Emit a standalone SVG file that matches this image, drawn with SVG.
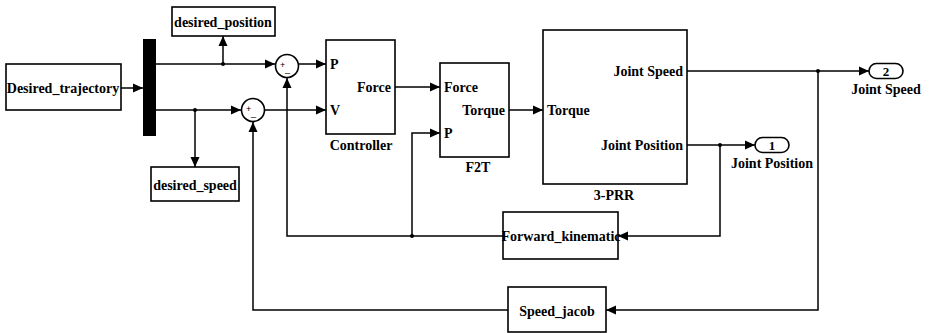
<svg xmlns="http://www.w3.org/2000/svg" width="929" height="333" viewBox="0 0 929 333">
<defs>
<marker id="ah" markerUnits="userSpaceOnUse" markerWidth="10" markerHeight="10" viewBox="0 0 10 10" refX="10" refY="5" orient="auto">
<path d="M0,0.5 L10,5 L0,9.5 Z" fill="#000"/>
</marker>
<style>
.box{fill:#fff;stroke:#000;stroke-width:1.6}
.bar{fill:#000;stroke:none}
.ln{fill:none;stroke:#000;stroke-width:1.5}
.ar{marker-end:url(#ah)}
.t{font-family:"Liberation Serif",serif;font-weight:bold;font-size:14px;fill:#000}
.n{font-size:13px}
.m{text-anchor:middle}
.e{text-anchor:end}
.s{font-family:"Liberation Sans",Arial,sans-serif;font-size:9px;fill:#000}
.dot{fill:#000}
</style>
</defs>
<rect width="929" height="333" fill="#fff"/>

<g id="connectors">
<path class="ln ar" d="M121,88 H143"/>
<path class="ln ar" d="M156,64 H275"/>
<path class="ln ar" d="M223,64 V36"/>
<path class="ln ar" d="M156,110 H241"/>
<path class="ln ar" d="M195,110 V167"/>
<path class="ln ar" d="M299,64 H326"/>
<path class="ln ar" d="M265,110 H326"/>
<path class="ln ar" d="M395,87 H440"/>
<path class="ln ar" d="M509,110 H543"/>
<path class="ln ar" d="M687,71 H869"/>
<path class="ln ar" d="M818,71 V310 H606"/>
<path class="ln ar" d="M687,145 H755"/>
<path class="ln ar" d="M720,145 V236 H618"/>
<path class="ln ar" d="M503,236 H287 V78"/>
<path class="ln ar" d="M412,236 V133 H440"/>
<path class="ln ar" d="M508,310 H253 V122"/>
<circle class="dot" cx="223" cy="64" r="2"/>
<circle class="dot" cx="195" cy="110" r="2"/>
<circle class="dot" cx="818" cy="71" r="2"/>
<circle class="dot" cx="720" cy="145" r="2"/>
<circle class="dot" cx="412" cy="236" r="2"/>
</g>

<g id="desired_trajectory">
<rect class="box" x="6" y="64" width="115" height="46"/>
<text class="t m" x="63" y="93">Desired_trajectory</text>
</g>

<g id="mux">
<rect class="bar" x="143" y="39" width="13" height="97"/>
</g>

<g id="desired_position">
<rect class="box" x="172" y="7" width="103" height="29"/>
<text class="t m" x="223" y="27">desired_position</text>
</g>

<g id="desired_speed">
<rect class="box" x="151" y="167" width="88" height="34"/>
<text class="t m" x="195" y="190">desired_speed</text>
</g>

<g id="sum1">
<circle class="box" cx="287" cy="66" r="11.5"/>
<text class="s" x="280" y="68">+</text>
<text class="s" x="285" y="72">_</text>
</g>

<g id="sum2">
<circle class="box" cx="253" cy="110" r="11.5"/>
<text class="s" x="246" y="112">+</text>
<text class="s" x="251" y="116">_</text>
</g>

<g id="controller">
<rect class="box" x="326" y="40" width="69" height="94"/>
<text class="t" x="330" y="69">P</text>
<text class="t" x="330" y="115">V</text>
<text class="t e" x="391" y="92">Force</text>
<text class="t m" x="361" y="150">Controller</text>
</g>

<g id="f2t">
<rect class="box" x="440" y="63" width="69" height="94"/>
<text class="t" x="444" y="92">Force</text>
<text class="t" x="444" y="138">P</text>
<text class="t e" x="505" y="115">Torque</text>
<text class="t m" x="478" y="172">F2T</text>
</g>

<g id="prr">
<rect class="box" x="543" y="30" width="144" height="154"/>
<text class="t" x="547" y="115">Torque</text>
<text class="t e" x="683" y="76">Joint Speed</text>
<text class="t e" x="683" y="150">Joint Position</text>
<text class="t m" x="614" y="200">3-PRR</text>
</g>

<g id="forward_kinematic">
<rect class="box" x="503" y="212" width="115" height="47"/>
<text class="t m" x="561" y="241">Forward_kinematic</text>
</g>

<g id="speed_jacob">
<rect class="box" x="508" y="287" width="98" height="45"/>
<text class="t m" x="557" y="316">Speed_jacob</text>
</g>

<g id="out1">
<rect class="box" x="755" y="137.5" width="34" height="15" rx="7.5"/>
<text class="t n m" x="772" y="149.5">1</text>
<text class="t m" x="772" y="168">Joint Position</text>
</g>

<g id="out2">
<rect class="box" x="869" y="63.5" width="34" height="15" rx="7.5"/>
<text class="t n m" x="886" y="75.5">2</text>
<text class="t m" x="886" y="94">Joint Speed</text>
</g>
</svg>
